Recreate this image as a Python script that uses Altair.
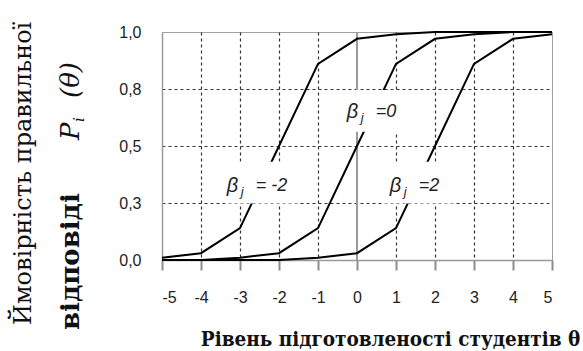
import altair as alt
import pandas as pd

# Item characteristic curves: probability of a correct answer vs. ability theta
theta = [-5, -4, -3, -2, -1, 0, 1, 2, 3, 4, 5]
p_beta_m2 = [0.01, 0.03, 0.14, 0.50, 0.86, 0.97, 0.99, 1.00, 1.00, 1.00, 1.00]
p_beta_0 = [0.00, 0.00, 0.01, 0.03, 0.14, 0.50, 0.86, 0.97, 0.99, 1.00, 1.00]
p_beta_p2 = [0.00, 0.00, 0.00, 0.00, 0.01, 0.03, 0.14, 0.50, 0.86, 0.97, 0.99]
betas = [-2, 0, 2]

x_ticks = [-5, -4, -3, -2, -1, 0, 1, 2, 3, 4, 5]
y_ticks = [0, 0.25, 0.5, 0.75, 1.0]

# Curve labels (text start) and the white boxes behind them
label_eq = ["= -2", "=0", "=2"]
label_x = [-3.34, -0.26, 0.84]
label_y = [0.326, 0.648, 0.326]
box_x = [-2.46, 0.46, 1.55]
box_y = [0.339, 0.654, 0.339]

rows = []
for b, series in zip(betas, [p_beta_m2, p_beta_0, p_beta_p2]):
    for t, p in zip(theta, series):
        rows.append({"theta": t, "p": p, "beta": b})
curves_df = pd.DataFrame(rows)

labels_df = pd.DataFrame({
    "beta": betas, "eq": label_eq, "lx": label_x, "ly": label_y,
    "bx": box_x, "by": box_y,
})

SERIF = "DejaVu Serif"
SERIF_NARROW = "DejaVu Serif Condensed"
SANS = "Liberation Sans"

W, H = 390, 228
xs = alt.Scale(domain=[-5, 5], nice=False, zero=False)
ys = alt.Scale(domain=[0, 1], nice=False, zero=False)

x_axis = alt.Axis(
    values=x_ticks, labelExpr="'' + datum.value", labelOverlap=False,
    labelFont=SANS, labelFontSize=16, labelColor="#222",
    labelPadding=19,
    tickSize=10, tickColor="#8c8c8c", tickWidth=2,
    domainColor="#9a9a9a", domainWidth=1.5,
    grid=True, gridColor="#333", gridDash=[3, 3], gridWidth=1.2,
    gridOpacity={"condition": {"test": "datum.value == -5 || datum.value == 5 || datum.value == 0", "value": 0}, "value": 1},
    title="Рівень підготовленості студентів θ",
    titleFont=SERIF_NARROW, titleFontSize=20.5, titleFontWeight="bold",
    titleColor="#111", titleX=228, titleY=85, titleAlign="center",
    titleBaseline="alphabetic",
)
y_axis = alt.Axis(
    values=y_ticks, labelOverlap=False,
    labelExpr="replace(format(round(datum.value * 10) / 10, '.1f'), '.', ',')",
    labelFont=SANS, labelFontSize=16, labelColor="#222",
    labelPadding=21, ticks=False,
    domainColor="#9a9a9a", domainWidth=1.5,
    grid=True, gridColor="#333", gridDash=[3, 3], gridWidth=1.2,
    gridOpacity={"condition": {"test": "datum.value <= 0 || datum.value >= 1", "value": 0}, "value": 1},
    title=None,
)


def xq(field):
    return alt.X(field, type="quantitative", scale=xs, axis=x_axis, title=x_axis.title)


def yq(field):
    return alt.Y(field, type="quantitative", scale=ys, axis=y_axis)


curves = alt.Chart(curves_df).mark_line(color="black", strokeWidth=2).encode(
    x=xq("theta"), y=yq("p"), detail="beta:N",
)

zero_line = alt.Chart(pd.DataFrame({"theta": [0], "p": [0]})).mark_rule(
    color="#9a9a9a", strokeWidth=2
).encode(x=xq("theta"))

lab = alt.Chart(labels_df)
boxes = lab.mark_point(
    shape="M-1,-0.58L1,-0.58L1,0.58L-1,0.58Z", filled=True, fill="white",
    stroke=None, opacity=1, size=72 * 72,
).encode(x=xq("bx"), y=yq("by"))

lab_font = dict(font=SANS, fontStyle="italic", color="#222")
beta_t = lab.mark_text(text="β", align="left", baseline="middle", fontSize=20, **lab_font).encode(
    x=xq("lx"), y=yq("ly"))
j_t = lab.mark_text(text="j", align="left", baseline="middle", fontSize=13, dx=14, dy=6, **lab_font).encode(
    x=xq("lx"), y=yq("ly"))
eq_t = lab.mark_text(align="left", baseline="middle", fontSize=18, dx=29, **lab_font).encode(
    x=xq("lx"), y=yq("ly"), text="eq:N")

# Rotated y-axis title: two lines, second one ends with P_i(θ)
one = pd.DataFrame({"k": [0]})
yt1 = alt.Chart(one).mark_text(
    text="Ймовірність правильної", angle=270, align="left", baseline="alphabetic",
    font=SERIF, fontSize=24, color="#111",
).encode(x=alt.value(-131), y=alt.value(293))
yt2 = alt.Chart(one).mark_text(
    text="відповіді", angle=270, align="left", baseline="alphabetic",
    font=SERIF, fontSize=26, fontWeight="bold", color="#111",
).encode(x=alt.value(-83), y=alt.value(298))
yt_p = alt.Chart(one).mark_text(
    text="P", angle=270, align="left", baseline="alphabetic",
    font=SERIF, fontSize=26, fontStyle="italic", color="#111",
).encode(x=alt.value(-83), y=alt.value(108))
yt_i = alt.Chart(one).mark_text(
    text="i", angle=270, align="left", baseline="alphabetic",
    font=SERIF, fontSize=15, fontStyle="italic", color="#111",
).encode(x=alt.value(-78), y=alt.value(90))
yt_th = alt.Chart(one).mark_text(
    text="(θ)", angle=270, align="left", baseline="alphabetic",
    font=SERIF, fontSize=26, fontStyle="italic", color="#111",
).encode(x=alt.value(-83), y=alt.value(66))

chart = alt.layer(
    zero_line, curves, boxes, beta_t, j_t, eq_t, yt1, yt2, yt_p, yt_i, yt_th
).properties(
    width=W, height=H,
    autosize=alt.AutoSizeParams(type="none"),
    padding={"left": 162, "top": 32, "right": 31, "bottom": 91},
    background="white",
).configure_view(stroke="#a0a0a0", strokeWidth=1).configure_axis(labelOverlap=False)

chart.save("out.html", embed_options={"renderer": "svg", "actions": False})
